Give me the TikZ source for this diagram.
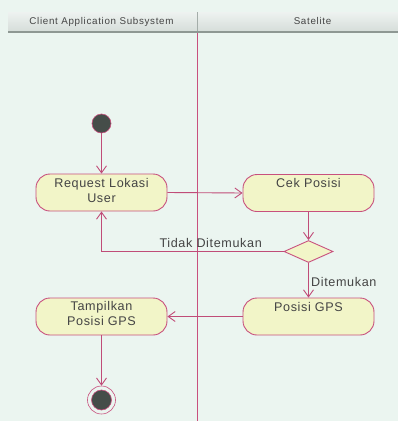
\documentclass[tikz,border=0pt]{standalone}
\usepackage{fontspec}
\setmainfont{Liberation Sans}[LetterSpace=5]
\newfontfamily\hdrfont{Liberation Sans}[LetterSpace=7]
\usetikzlibrary{arrows.meta,shapes.geometric}

\definecolor{bg}{HTML}{EBF5F0}
\definecolor{lane}{HTML}{C8507E}
\definecolor{flow}{HTML}{C04C78}
\definecolor{actfill}{HTML}{F2F5C8}
\definecolor{ink}{HTML}{444444}
\definecolor{dot}{HTML}{454D49}
\definecolor{hdrtop}{HTML}{EEF2F0}
\definecolor{hdrbot}{HTML}{D6DEDA}
\definecolor{hdrline}{HTML}{8E9893}

\begin{document}
\begin{tikzpicture}[x=1pt,y=-1pt,
  action/.style={draw=lane, fill=actfill, rounded corners=14pt,
    minimum width=131pt, minimum height=37pt, inner sep=0pt, line width=0.9pt},
  actext/.style={anchor=north, align=center, text=ink, inner sep=0pt,
    font=\fontsize{12.6}{15.5}\selectfont},
  guard/.style={text=ink, inner sep=0pt, font=\fontsize{12.6}{15.5}\selectfont},
  decision/.style={diamond, draw=lane, fill=actfill, minimum width=49pt,
    minimum height=22pt, inner sep=0pt, line width=0.9pt},
  flowline/.style={draw=flow, line width=0.9pt,
    -{Straight Barb[length=7pt,width=10pt]}},
  hdrtext/.style={text=ink, inner sep=0pt, font=\hdrfont\fontsize{9.8}{12}\selectfont}
]
  % canvas
  \fill[bg] (0,0) rectangle (398,421);
  \useasboundingbox (0,0) rectangle (398,421);

  % lane separator
  \fill[lane] (197,33) rectangle (198.2,421);

  % swimlane header
  \shade[top color=hdrtop, bottom color=hdrbot] (8,12) rectangle (398,31);
  \draw[hdrline, line width=2.2pt] (8,32) -- (398,32);
  \draw[hdrline!80, line width=0.8pt] (197.5,12) -- (197.5,31);
  \node[hdrtext, anchor=base] (laneA) at (101.5,24) {Client Application Subsystem};
  \node[hdrtext, anchor=base] (laneB) at (312.5,24) {Satelite};

  % initial node
  \node[circle, draw=lane, fill=dot, minimum size=19pt, inner sep=0pt,
    line width=0.6pt] (start) at (101.5,123.5) {};

  % actions
  \node[action] (req) at (101.5,192.5) {};
  \node[actext] (reqT) at (101.5,177.8) {Request Lokasi\\User};
  \node[action] (cek) at (308.5,193) {};
  \node[actext] (cekT) at (308.5,177.8) {Cek Posisi};
  \node[action] (gps) at (308.5,316.5) {};
  \node[actext] (gpsT) at (308.5,302) {Posisi GPS};
  \node[action] (show) at (101.5,316.5) {};
  \node[actext] (showT) at (101.5,301) {Tampilkan\\Posisi GPS};

  % decision
  \node[decision] (dec) at (308.5,251.5) {};

  % final node
  \node[circle, draw=lane, minimum size=28pt, inner sep=0pt, line width=0.6pt]
    (stop) at (101.5,400) {};
  \node[circle, draw=lane, fill=dot, minimum size=20pt, inner sep=0pt,
    line width=0.6pt] (stopIn) at (stop.center) {};

  % flows
  \draw[flowline] (start) -- (req.north);
  \draw[flowline] (req.east) -- (cek.west);
  \draw[flowline] (cek.south) -- (dec.north);
  \draw[flowline] (dec.west) -| (req.south);
  \draw[flowline] (dec.south) -- (gps.north);
  \draw[flowline] (gps.west) -- (show.east);
  \draw[flowline] (show.south) -- (stop.north);

  % guards
  \node[guard, anchor=base east] (gNo) at (262,247) {Tidak Ditemukan};
  \node[guard, anchor=base west] (gYes) at (311,286) {Ditemukan};
\end{tikzpicture}
\end{document}
